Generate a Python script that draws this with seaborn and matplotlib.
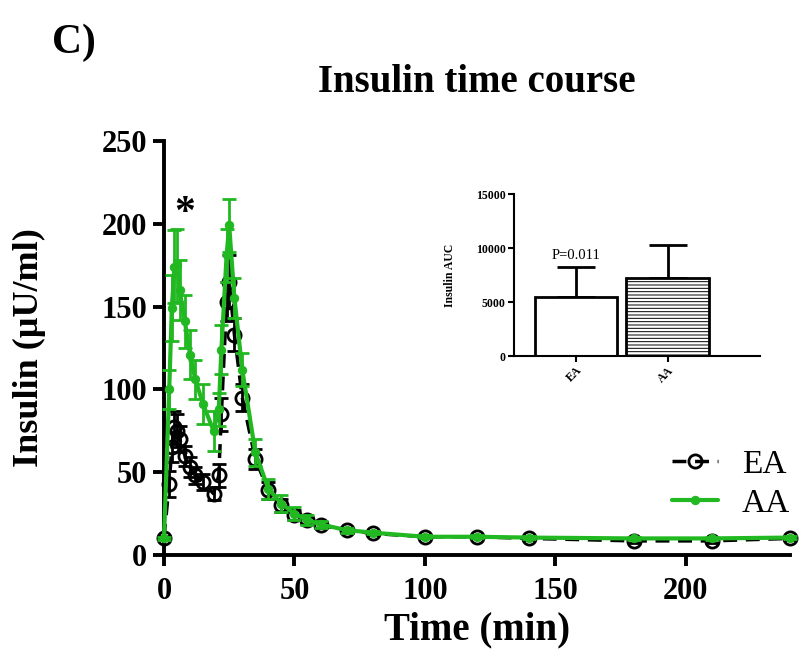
import numpy as np
import pandas as pd
import matplotlib
matplotlib.use("Agg")
import matplotlib.pyplot as plt
import seaborn as sns

# time course data (min, uU/ml)
time_min = [0, 2, 3, 4, 5, 6, 8, 10, 12, 15, 19, 21, 22, 24, 25, 27, 30,
            35, 40, 45, 50, 55, 60, 70, 80, 100, 120, 140, 180, 210, 240]
ea_mean = [10.5, 43, 65, 77, 75, 70, 60, 53, 48, 44, 37, 48, 85, 153, 165, 133, 95,
           58, 39, 30, 24, 21, 18, 15, 13, 11, 11, 10, 8.5, 8.5, 10]
ea_err = [1, 8, 9, 10, 10, 8, 6, 6, 5, 5, 4, 7, 10, 12, 16, 10, 8,
          6, 5, 4, 3, 2, 2, 1.5, 1, 1, 1, 1, 1, 1, 1]
aa_mean = [10, 100, 149, 174, 175, 160, 141, 121, 106, 91, 75, 88, 124, 181, 199, 155, 112,
           62, 40, 31, 25, 21, 18.5, 15, 13.5, 11, 11, 10.5, 10, 10, 10.5]
aa_err = [1, 12, 20, 22, 22, 18, 16, 15, 12, 12, 12, 10, 15, 16, 16, 12, 10,
          8, 6, 5, 4, 3, 2, 1.5, 1, 1, 1, 1, 1, 1, 1]

# inset AUC
groups = ["EA", "AA"]
auc_mean = [5450, 7250]
auc_sd = [2820, 3030]

green = "#22b822"

sns.set_theme(style="ticks")
plt.rcParams['font.family'] = ['Liberation Serif', 'DejaVu Serif']
plt.rcParams['hatch.linewidth'] = 0.7
for k in ['text.color', 'axes.labelcolor', 'xtick.color', 'ytick.color', 'axes.edgecolor']:
    plt.rcParams[k] = 'black'

fig = plt.figure(figsize=(8, 6.61), dpi=100)
ax = fig.add_axes([0.205, 0.1604, 0.7825, 0.6263])

# EA
ax.errorbar(time_min, ea_mean, yerr=ea_err, fmt='none', ecolor='black',
            elinewidth=2, capsize=5, capthick=2, clip_on=False, zorder=2)
sns.lineplot(x=time_min, y=ea_mean, ax=ax, color='black', lw=2.5,
             linestyle=(0, (4, 2.5)), marker='o', markersize=9.5,
             markerfacecolor='none', markeredgecolor='black', markeredgewidth=2,
             clip_on=False, zorder=3, label='EA')
# AA
ax.errorbar(time_min, aa_mean, yerr=aa_err, fmt='none', ecolor=green,
            elinewidth=2, capsize=5, capthick=2, clip_on=False, zorder=4)
sns.lineplot(x=time_min, y=aa_mean, ax=ax, color=green, lw=3,
             marker='o', markersize=6, markerfacecolor=green,
             markeredgecolor=green, clip_on=False, zorder=5, label='AA')

ax.set_xlim(0, 240)
ax.set_ylim(0, 250)
ax.set_xticks([0, 50, 100, 150, 200])
ax.set_yticks([0, 50, 100, 150, 200, 250])
sns.despine(ax=ax)
for s in ['left', 'bottom']:
    ax.spines[s].set_linewidth(2.8)
ax.tick_params(axis='both', width=2.8, length=8, labelsize=22)
ax.tick_params(axis='x', pad=8)
ax.tick_params(axis='y', pad=4)
for lab in ax.get_xticklabels() + ax.get_yticklabels():
    lab.set_fontweight('bold')
ax.set_xlabel("Time (min)", fontsize=28, fontweight='bold', labelpad=4)
ax.set_ylabel("Insulin (\u00b5U/ml)", fontsize=26, fontweight='bold', labelpad=40)
ax.set_title("Insulin time course", fontsize=28, fontweight='bold', pad=35)
ax.text(8, 206, "*", fontsize=30, fontweight='bold', ha='center', va='center')

leg = ax.legend(loc='lower right', bbox_to_anchor=(1.0, 0.088), frameon=False,
                borderaxespad=0, borderpad=0,
                fontsize=24, handlelength=1.4, handletextpad=0.7, labelspacing=0.25)

fig.text(0.092, 0.935, "C)", fontsize=30, fontweight='bold', ha='center', va='center')

# inset
ins = fig.add_axes([0.6425, 0.4614, 0.3075, 0.245])
auc_df = pd.DataFrame({"group": groups, "auc": auc_mean})
sns.barplot(data=auc_df, x="group", y="auc", ax=ins, width=0.9,
            color='white', edgecolor='black', linewidth=2)
ins.patches[1].set_hatch('-----')
ins.errorbar([0, 1], auc_mean, yerr=[[0, 0], auc_sd], fmt='none', ecolor='black',
             elinewidth=2, capsize=14, capthick=2, zorder=0)
ins.set_xlim(-0.68, 2.01)
ins.set_ylim(0, 15000)
ins.set_yticks([0, 5000, 10000, 15000])
sns.despine(ax=ins)
for s in ['left', 'bottom']:
    ins.spines[s].set_linewidth(1.5)
ins.tick_params(axis='both', width=1.5, length=4, labelsize=8.5, pad=2)
for lab in ins.get_yticklabels():
    lab.set_fontweight('bold')
for lab in ins.get_xticklabels():
    lab.set_fontweight('bold')
    lab.set_rotation(45)
    lab.set_ha('right')
    lab.set_rotation_mode('anchor')
ins.set_xlabel("")
ins.set_ylabel("Insulin AUC", fontsize=8.5, fontweight='bold', labelpad=14)
ins.text(0, 9300, "P=0.011", fontsize=10.5, ha='center', va='center')

fig.savefig("out.png", dpi=100)
